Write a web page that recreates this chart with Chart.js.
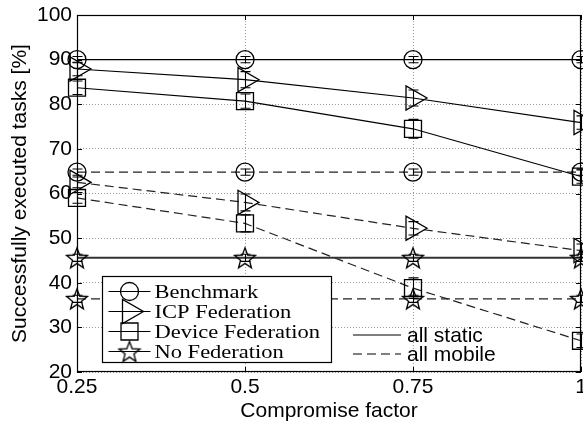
<!DOCTYPE html>
<html>
<head>
<meta charset="utf-8">
<script src="https://cdn.jsdelivr.net/npm/chart.js@4/dist/chart.umd.min.js"></script>
<style>
  html, body { margin: 0; padding: 0; background: #fff; }
  #wrap { width: 583px; height: 422px; position: relative; }
</style>
</head>
<body>
<div id="wrap"><canvas id="chart"></canvas></div>
<script>
// Compromise factor on the x axis
const factors = [0.25, 0.5, 0.75, 1];
const xTickLabels = ['0.25', '0.5', '0.75', '1'];
const yTicks = [20, 30, 40, 50, 60, 70, 80, 90, 100];

// Successfully executed tasks [%], "all static" scenario
const benchmarkStatic = [90.0, 90.0, 90.0, 90.0];
const icpStatic       = [87.9, 85.5, 81.4, 75.9];
const deviceStatic    = [83.7, 80.7, 74.5, 63.8];
const noFedStatic     = [45.6, 45.6, 45.6, 45.6];

// Successfully executed tasks [%], "all mobile" scenario
const benchmarkMobile = [64.8, 64.8, 64.8, 64.8];
const icpMobile       = [62.5, 58.0, 52.2, 47.2];
const deviceMobile    = [59.0, 53.3, 38.8, 27.0];
const noFedMobile     = [36.4, 36.4, 36.4, 36.4];

// Half-widths of the error bars
const benchmarkStaticErr = [0.7, 0.7, 0.7, 0.7];
const icpStaticErr       = [1.5, 1.8, 1.8, 1.5];
const deviceStaticErr    = [1.5, 1.6, 2.1, 1.5];
const noFedStaticErr     = [0.8, 0.8, 0.8, 0.8];
const benchmarkMobileErr = [0.7, 0.7, 0.7, 0.7];
const icpMobileErr       = [1.2, 1.9, 1.5, 1.5];
const deviceMobileErr    = [1.2, 1.9, 2.3, 1.5];
const noFedMobileErr     = [0.8, 0.8, 0.8, 0.8];

const seriesNames = ['Benchmark', 'ICP Federation', 'Device Federation', 'No Federation'];
const scenarioNames = ['all static', 'all mobile'];

// Hollow five-pointed star marker
function makeStar(r) {
  const s = Math.ceil(r * 2 + 4);
  const c = document.createElement('canvas');
  c.width = s; c.height = s;
  const g = c.getContext('2d');
  g.strokeStyle = '#000';
  g.lineWidth = 1.3;
  g.lineJoin = 'miter';
  g.beginPath();
  for (let i = 0; i < 10; i++) {
    const a = -Math.PI / 2 + i * Math.PI / 5;
    const rr = i % 2 ? r * 0.42 : r;
    g.lineTo(s / 2 + rr * Math.cos(a), s / 2 + rr * Math.sin(a) + 1);
  }
  g.closePath();
  g.stroke();
  return c;
}
const starImg = makeStar(11);

const markers = [
  { pointStyle: 'circle',   radius: 9,  rotation: 0 },
  { pointStyle: 'triangle', radius: 14, rotation: 90 },
  { pointStyle: 'rect',     radius: 12, rotation: 0 },
  { pointStyle: starImg,    radius: 11, rotation: 0 }
];

const staticSets = [benchmarkStatic, icpStatic, deviceStatic, noFedStatic];
const mobileSets = [benchmarkMobile, icpMobile, deviceMobile, noFedMobile];
const staticErrs = [benchmarkStaticErr, icpStaticErr, deviceStaticErr, noFedStaticErr];
const mobileErrs = [benchmarkMobileErr, icpMobileErr, deviceMobileErr, noFedMobileErr];

function makeDataset(values, errs, idx, mobile) {
  const m = markers[idx];
  return {
    label: seriesNames[idx] + (mobile ? ' (' + scenarioNames[1] + ')' : ' (' + scenarioNames[0] + ')'),
    data: factors.map((x, i) => ({ x: x, y: values[i] })),
    errors: errs,
    borderColor: mobile ? '#222' : (idx === 3 ? '#333' : '#000'),
    borderWidth: mobile ? 1.2 : (idx === 3 ? 1.8 : 1.2),
    borderDash: mobile ? [9, 5] : [],
    pointStyle: m.pointStyle,
    pointRadius: m.radius,
    pointRotation: m.rotation,
    pointBorderColor: '#000',
    pointBorderWidth: 1.3,
    pointBackgroundColor: 'rgba(0,0,0,0)',
    fill: false,
    tension: 0,
    clip: false
  };
}

const datasets = [];
for (let i = 0; i < 4; i++) datasets.push(makeDataset(staticSets[i], staticErrs[i], i, false));
for (let i = 0; i < 4; i++) datasets.push(makeDataset(mobileSets[i], mobileErrs[i], i, true));

// Error bars, box border, inward tick marks and the two legends
const decorations = {
  id: 'decorations',
  afterDatasetsDraw(chart) {
    const ctx = chart.ctx;
    const xs = chart.scales.x, ys = chart.scales.y;
    const area = chart.chartArea;

    // error bars
    ctx.save();
    ctx.strokeStyle = '#000';
    ctx.lineWidth = 1.1;
    chart.data.datasets.forEach(ds => {
      ds.data.forEach((p, i) => {
        const e = ds.errors[i];
        const px = Math.round(xs.getPixelForValue(p.x)) + 0.5;
        const y1 = ys.getPixelForValue(p.y - e);
        const y2 = ys.getPixelForValue(p.y + e);
        ctx.beginPath();
        ctx.moveTo(px, y1); ctx.lineTo(px, y2);
        ctx.moveTo(px - 5, y1); ctx.lineTo(px + 5, y1);
        ctx.moveTo(px - 5, y2); ctx.lineTo(px + 5, y2);
        ctx.stroke();
      });
    });
    ctx.restore();

    // box and inward ticks
    ctx.save();
    ctx.strokeStyle = '#000';
    ctx.lineWidth = 1.2;
    ctx.strokeRect(area.left + 0.5, area.top + 0.5, area.right - area.left - 1, area.bottom - area.top - 1);
    ctx.lineWidth = 1;
    ctx.beginPath();
    yTicks.forEach(v => {
      const py = Math.round(ys.getPixelForValue(v)) + 0.5;
      ctx.moveTo(area.left, py); ctx.lineTo(area.left + 5, py);
      ctx.moveTo(area.right, py); ctx.lineTo(area.right - 5, py);
    });
    factors.forEach(v => {
      const px = Math.round(xs.getPixelForValue(v)) + 0.5;
      ctx.moveTo(px, area.bottom); ctx.lineTo(px, area.bottom - 5);
      ctx.moveTo(px, area.top); ctx.lineTo(px, area.top + 5);
    });
    ctx.stroke();
    ctx.restore();

    // marker legend (boxed)
    const bx = area.left + 25.5, by = area.top + 261.5, bw = 229, bh = 86;
    ctx.save();
    ctx.fillStyle = '#fff';
    ctx.fillRect(bx, by, bw, bh);
    ctx.strokeStyle = '#000';
    ctx.lineWidth = 1.2;
    ctx.strokeRect(bx, by, bw, bh);
    for (let i = 0; i < 4; i++) {
      const rowY = by + 15 + i * 20;
      const lx0 = bx + 6, lx1 = bx + 48, mx = bx + 27;
      ctx.strokeStyle = '#000';
      ctx.lineWidth = 1.2;
      ctx.beginPath();
      ctx.moveTo(lx0, rowY); ctx.lineTo(lx1, rowY);
      ctx.stroke();
      const m = markers[i];
      ctx.lineWidth = 1.3;
      ctx.fillStyle = 'rgba(0,0,0,0)';
      Chart.helpers.drawPoint(ctx, {
        pointStyle: m.pointStyle,
        rotation: m.rotation,
        radius: m.radius,
        borderWidth: 1.3
      }, mx, rowY);
      ctx.save();
      ctx.fillStyle = '#000';
      ctx.font = '18px "Liberation Serif", "Times New Roman", serif';
      ctx.textBaseline = 'alphabetic';
      ctx.translate(bx + 52, rowY + 6);
      ctx.scale(1.25, 1);
      ctx.fillText(seriesNames[i], 0, 0);
      ctx.restore();
    }
    ctx.restore();

    // line-style legend (no box)
    ctx.save();
    ctx.strokeStyle = '#000';
    ctx.lineWidth = 1.2;
    ctx.fillStyle = '#000';
    ctx.font = '21px "Liberation Sans", Arial, sans-serif';
    ctx.textBaseline = 'middle';
    const sx0 = area.left + 276, sx1 = area.left + 324, tx = area.left + 330;
    [area.top + 320, area.top + 339].forEach((ly, k) => {
      ctx.setLineDash(k === 0 ? [] : [9, 5]);
      ctx.beginPath();
      ctx.moveTo(sx0, ly); ctx.lineTo(sx1, ly);
      ctx.stroke();
      ctx.setLineDash([]);
      ctx.fillText(scenarioNames[k], tx, ly + 1);
    });
    ctx.restore();
  }
};

new Chart(document.getElementById('chart'), {
  type: 'line',
  data: { datasets: datasets },
  plugins: [decorations],
  options: {
    responsive: true,
    maintainAspectRatio: false,
    animation: false,
    events: [],
    layout: { autoPadding: false, padding: { top: 15, right: 2, left: 0, bottom: 0 } },
    plugins: { legend: { display: false }, tooltip: { enabled: false } },
    scales: {
      x: {
        type: 'linear',
        min: 0.25,
        max: 1,
        afterBuildTicks(scale) { scale.ticks = factors.map(v => ({ value: v })); },
        afterFit(scale) { scale.height = 50; scale.paddingLeft = 0; scale.paddingRight = 0; },
        ticks: {
          autoSkip: false,
          maxRotation: 0,
          padding: 3,
          color: '#000',
          font: { family: '"Liberation Sans", Arial, sans-serif', size: 21 },
          callback: (v) => xTickLabels[factors.indexOf(v)]
        },
        grid: { color: '#9a9a9a', lineWidth: 1, drawTicks: false },
        border: { display: false, dash: [1, 2] },
        title: {
          display: true,
          text: 'Compromise factor',
          color: '#000',
          font: { family: '"Liberation Sans", Arial, sans-serif', size: 21, lineHeight: 1 },
          padding: { top: 0, bottom: 0 }
        }
      },
      y: {
        type: 'linear',
        min: 20,
        max: 100,
        afterBuildTicks(scale) { scale.ticks = yTicks.map(v => ({ value: v })); },
        afterFit(scale) { scale.width = 77; scale.paddingTop = 0; scale.paddingBottom = 0; },
        ticks: {
          padding: 5,
          color: '#000',
          font: { family: '"Liberation Sans", Arial, sans-serif', size: 21 },
          callback: (v) => String(v)
        },
        grid: { color: '#9a9a9a', lineWidth: 1, drawTicks: false },
        border: { display: false, dash: [1, 2] },
        title: {
          display: true,
          text: 'Successfully executed tasks [%]',
          color: '#000',
          font: { family: '"Liberation Sans", Arial, sans-serif', size: 21, lineHeight: 1 },
          padding: { top: 10, bottom: 0 }
        }
      }
    }
  }
});
</script>
</body>
</html>
